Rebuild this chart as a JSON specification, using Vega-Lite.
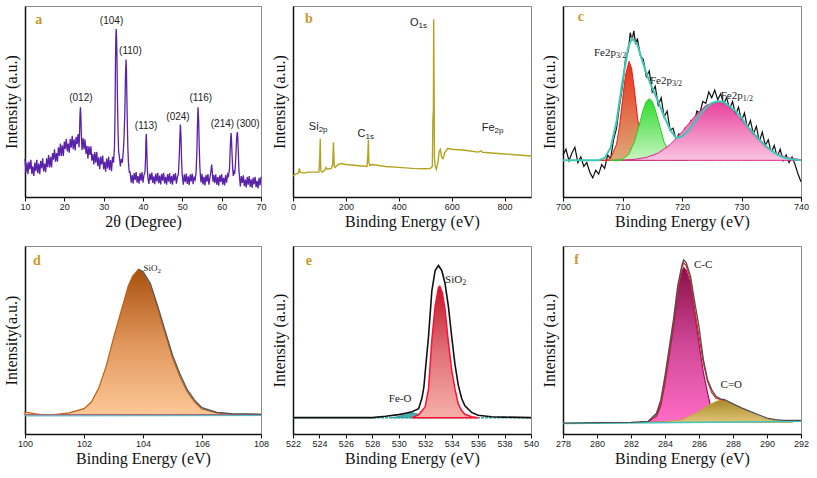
{
"$schema":"https://vega.github.io/schema/vega-lite/v6.json",
"background":"white",
"padding":{"left":2,"top":5,"right":2,"bottom":2},
"config":{
 "view":{"stroke":"#8a8a8a","strokeWidth":1},
 "axis":{"grid":false,"domainColor":"#111","domainWidth":1.5,"tickColor":"#111","tickWidth":1,"labelFont":"Liberation Sans","labelFontSize":9,"labelColor":"#222","titleFont":"Liberation Serif","titleFontSize":16,"titleFontWeight":"normal","titleColor":"#111"},
 "axisX":{"tickSize":4,"labelPadding":1,"titlePadding":2,"labelFlush":false,"labelOverlap":false},
 "axisY":{"labels":false,"ticks":false,"titlePadding":6},
 "text":{"baseline":"middle"}
},
"bounds":"flush",
"columns":3,
"spacing":{"row":49,"column":32},
"concat":[
 {"width":236,"height":191,
  "encoding":{"x":{"field":"x","type":"quantitative","scale":{"domain":[10,70],"nice":false,"zero":false},"axis":{"values":[10,20,30,40,50,60,70]},"title":"2θ (Degree)"},
   "y":{"field":"y","type":"quantitative","scale":{"domain":[0,100],"nice":false,"zero":false},"title":"Intensity (a.u.)"}},
  "layer":[
   {"data":{"values":[{"x":10,"y":20},{"x":10.25,"y":13},{"x":10.5,"y":18},{"x":10.75,"y":12},{"x":11,"y":18.5},{"x":11.25,"y":14.5},{"x":11.5,"y":19.5},{"x":11.75,"y":12},{"x":12,"y":16},{"x":12.25,"y":11},{"x":12.5,"y":18},{"x":12.75,"y":13.5},{"x":13,"y":19.5},{"x":13.25,"y":12.5},{"x":13.5,"y":17.5},{"x":13.75,"y":12},{"x":14,"y":19},{"x":14.25,"y":15},{"x":14.5,"y":20.2},{"x":14.75,"y":13.4},{"x":15,"y":17.5},{"x":15.25,"y":13},{"x":15.5,"y":20.2},{"x":15.75,"y":15.6},{"x":16,"y":22},{"x":16.25,"y":15.5},{"x":16.5,"y":21},{"x":16.75,"y":15.5},{"x":17,"y":23},{"x":17.25,"y":19.5},{"x":17.5,"y":25},{"x":17.75,"y":18.5},{"x":18,"y":23},{"x":18.25,"y":18.5},{"x":18.5,"y":26},{"x":18.75,"y":21.5},{"x":19,"y":28},{"x":19.25,"y":21.5},{"x":19.5,"y":27},{"x":19.75,"y":21.5},{"x":20,"y":29},{"x":20.25,"y":25.2},{"x":20.5,"y":30.5},{"x":20.75,"y":23.8},{"x":21,"y":28},{"x":21.25,"y":23.2},{"x":21.5,"y":30.5},{"x":21.75,"y":25.8},{"x":22,"y":32},{"x":22.25,"y":25},{"x":22.5,"y":30.2},{"x":22.75,"y":24.4},{"x":23,"y":31.5},{"x":23.25,"y":27.7},{"x":23.5,"y":33},{"x":23.75,"y":26},{"x":23.85,"y":32},{"x":24,"y":44},{"x":24.1,"y":47},{"x":24.2,"y":43},{"x":24.35,"y":31},{"x":24.5,"y":24.5},{"x":24.75,"y":30.8},{"x":25,"y":25},{"x":25.25,"y":30.2},{"x":25.5,"y":22.5},{"x":25.75,"y":26.8},{"x":26,"y":20},{"x":26.25,"y":26.5},{"x":26.5,"y":22},{"x":26.75,"y":26.5},{"x":27,"y":19},{"x":27.25,"y":22.5},{"x":27.5,"y":17},{"x":27.75,"y":23.5},{"x":28,"y":18},{"x":28.25,"y":23.6},{"x":28.5,"y":16.2},{"x":28.75,"y":20.8},{"x":29,"y":14.5},{"x":29.25,"y":21.2},{"x":29.5,"y":17},{"x":29.75,"y":21.7},{"x":30,"y":14.5},{"x":30.25,"y":18.4},{"x":30.5,"y":13.2},{"x":30.75,"y":20.1},{"x":31,"y":15},{"x":31.25,"y":21},{"x":31.5,"y":14.2},{"x":31.75,"y":19.4},{"x":32,"y":13.5},{"x":32.25,"y":21},{"x":32.5,"y":18},{"x":32.75,"y":26},{"x":32.9,"y":45},{"x":33,"y":70},{"x":33.1,"y":84},{"x":33.2,"y":88},{"x":33.3,"y":82},{"x":33.4,"y":70},{"x":33.5,"y":52},{"x":33.65,"y":35},{"x":33.8,"y":24},{"x":34,"y":21},{"x":34.25,"y":16},{"x":34.5,"y":20},{"x":34.75,"y":18},{"x":35,"y":24},{"x":35.2,"y":32},{"x":35.4,"y":46},{"x":35.55,"y":64},{"x":35.7,"y":72},{"x":35.8,"y":66},{"x":35.9,"y":52},{"x":36,"y":40},{"x":36.15,"y":26},{"x":36.3,"y":18},{"x":36.5,"y":13},{"x":36.75,"y":13},{"x":37,"y":7.5},{"x":37.25,"y":11.5},{"x":37.5,"y":7},{"x":37.75,"y":12.5},{"x":38,"y":9},{"x":38.25,"y":13},{"x":38.5,"y":7.5},{"x":38.75,"y":11},{"x":39,"y":7},{"x":39.25,"y":12.5},{"x":39.5,"y":8.5},{"x":39.75,"y":13},{"x":40,"y":7.5},{"x":40.25,"y":11.5},{"x":40.5,"y":13},{"x":40.65,"y":20},{"x":40.75,"y":30},{"x":40.85,"y":33},{"x":40.95,"y":26},{"x":41.1,"y":15},{"x":41.25,"y":10},{"x":41.5,"y":6.8},{"x":41.75,"y":12.3},{"x":42,"y":8.8},{"x":42.25,"y":12.8},{"x":42.5,"y":7.3},{"x":42.75,"y":10.8},{"x":43,"y":6.7},{"x":43.25,"y":12.2},{"x":43.5,"y":8.2},{"x":43.75,"y":12.7},{"x":44,"y":7.2},{"x":44.25,"y":11.2},{"x":44.5,"y":6.6},{"x":44.75,"y":12.1},{"x":45,"y":8.6},{"x":45.25,"y":12.6},{"x":45.5,"y":7.1},{"x":45.75,"y":10.6},{"x":46,"y":6.5},{"x":46.25,"y":12},{"x":46.5,"y":8},{"x":46.75,"y":12.5},{"x":47,"y":7},{"x":47.25,"y":11},{"x":47.5,"y":6.5},{"x":47.75,"y":12},{"x":48,"y":8.5},{"x":48.25,"y":12.5},{"x":48.5,"y":7},{"x":48.75,"y":10.5},{"x":49,"y":12},{"x":49.2,"y":20},{"x":49.35,"y":30},{"x":49.5,"y":38},{"x":49.65,"y":32},{"x":49.8,"y":20},{"x":49.95,"y":12},{"x":50.25,"y":6.4},{"x":50.5,"y":11.9},{"x":50.75,"y":7.9},{"x":51,"y":12.3},{"x":51.25,"y":6.8},{"x":51.5,"y":10.8},{"x":51.75,"y":6.3},{"x":52,"y":11.8},{"x":52.25,"y":8.2},{"x":52.5,"y":12.2},{"x":52.75,"y":6.7},{"x":53,"y":10.2},{"x":53.25,"y":9},{"x":53.5,"y":13},{"x":53.7,"y":24},{"x":53.85,"y":38},{"x":54,"y":47},{"x":54.15,"y":40},{"x":54.3,"y":26},{"x":54.45,"y":16},{"x":54.6,"y":11},{"x":54.75,"y":7.6},{"x":55,"y":12.1},{"x":55.25,"y":6.6},{"x":55.5,"y":10.6},{"x":55.75,"y":6},{"x":56,"y":11.5},{"x":56.25,"y":8},{"x":56.5,"y":12},{"x":56.75,"y":6.5},{"x":57,"y":10},{"x":57.25,"y":13},{"x":57.45,"y":17},{"x":57.6,"y":14},{"x":57.8,"y":8},{"x":58,"y":11.5},{"x":58.25,"y":7.4},{"x":58.5,"y":11.9},{"x":58.75,"y":6.4},{"x":59,"y":10.4},{"x":59.25,"y":5.9},{"x":59.5,"y":11.4},{"x":59.75,"y":7.9},{"x":60,"y":12},{"x":60.25,"y":6.5},{"x":60.5,"y":10},{"x":60.75,"y":6},{"x":61,"y":11.5},{"x":61.25,"y":7.5},{"x":61.5,"y":12},{"x":61.75,"y":11},{"x":62,"y":15},{"x":62.15,"y":24},{"x":62.3,"y":31},{"x":62.4,"y":33.5},{"x":62.5,"y":30},{"x":62.65,"y":22},{"x":62.8,"y":15},{"x":62.95,"y":11},{"x":63.1,"y":14},{"x":63.3,"y":12},{"x":63.5,"y":17},{"x":63.7,"y":26},{"x":63.85,"y":32},{"x":64,"y":34},{"x":64.1,"y":31},{"x":64.25,"y":22},{"x":64.4,"y":14},{"x":64.6,"y":9},{"x":64.75,"y":5.5},{"x":65,"y":11},{"x":65.25,"y":7.4},{"x":65.5,"y":11.3},{"x":65.75,"y":5.7},{"x":66,"y":9.1},{"x":66.25,"y":5},{"x":66.5,"y":10.5},{"x":66.75,"y":6.4},{"x":67,"y":10.9},{"x":67.25,"y":5.3},{"x":67.5,"y":9.3},{"x":67.75,"y":4.7},{"x":68,"y":10.2},{"x":68.25,"y":6.6},{"x":68.5,"y":10.6},{"x":68.75,"y":5.1},{"x":69,"y":8.5},{"x":69.25,"y":4.5},{"x":69.5,"y":10},{"x":69.75,"y":6},{"x":70,"y":10.5}]},
    "mark":{"type":"line","color":"#5a22a8","strokeWidth":1.3},"encoding":{}},
   {"data":{"values":[{"x":24.2,"y":52,"t":"(012)"},{"x":32.0,"y":92,"t":"(104)"},{"x":36.8,"y":76.5,"t":"(110)"},{"x":40.8,"y":37,"t":"(113)"},{"x":48.9,"y":42,"t":"(024)"},{"x":54.7,"y":52,"t":"(116)"},{"x":60.2,"y":38,"t":"(214)"},{"x":66.7,"y":38,"t":"(300)"}]},
    "mark":{"type":"text","font":"Liberation Sans","fontSize":10,"color":"#222"},"encoding":{"text":{"field":"t"}}},
   {"data":{"values":[{"x":13.5,"y":92.7,"t":"a"}]},"mark":{"type":"text","font":"Liberation Serif","fontWeight":"bold","fontSize":14,"color":"#c9982a"},"encoding":{"text":{"field":"t"}}}
  ]},
 {"width":238,"height":191,
  "encoding":{"x":{"field":"x","type":"quantitative","scale":{"domain":[0,900],"nice":false,"zero":false},"axis":{"values":[0,200,400,600,800]},"title":"Binding Energy (eV)"},
   "y":{"field":"y","type":"quantitative","scale":{"domain":[0,100],"nice":false,"zero":false},"title":"Intensity (a.u.)"}},
  "layer":[
   {"data":{"values":[{"x":0,"y":11},{"x":10,"y":12},{"x":20,"y":12.5},{"x":24,"y":15},{"x":27,"y":13},{"x":40,"y":12.5},{"x":60,"y":13},{"x":80,"y":13},{"x":98,"y":13},{"x":101,"y":20},{"x":103,"y":30.5},{"x":105,"y":14},{"x":110,"y":13},{"x":120,"y":14},{"x":125,"y":15.5},{"x":130,"y":14.5},{"x":145,"y":15},{"x":150,"y":17},{"x":153,"y":28.7},{"x":156,"y":16},{"x":160,"y":15.5},{"x":170,"y":17},{"x":180,"y":17.5},{"x":200,"y":17},{"x":240,"y":16.5},{"x":280,"y":16},{"x":283,"y":22},{"x":285,"y":30},{"x":287,"y":18},{"x":290,"y":16.5},{"x":300,"y":17},{"x":350,"y":16},{"x":400,"y":15.5},{"x":450,"y":15},{"x":500,"y":14.8},{"x":520,"y":15},{"x":527,"y":16},{"x":529,"y":40},{"x":530,"y":43},{"x":531,"y":46},{"x":532,"y":93},{"x":533.5,"y":60},{"x":535,"y":20},{"x":538,"y":16},{"x":542,"y":14.5},{"x":548,"y":18},{"x":553,"y":24},{"x":557,"y":25},{"x":562,"y":21},{"x":567,"y":20},{"x":575,"y":23.5},{"x":585,"y":25.5},{"x":600,"y":25},{"x":650,"y":24.5},{"x":700,"y":23.5},{"x":705,"y":23.8},{"x":711,"y":24.2},{"x":716,"y":23.4},{"x":750,"y":23},{"x":800,"y":22.5},{"x":850,"y":22},{"x":900,"y":21.5}]},
    "mark":{"type":"line","color":"#b5a320","strokeWidth":1.4},"encoding":{}},
   {"data":{"values":[{"x":97,"y":36.5,"m":"Si","s":"2p"},{"x":274,"y":33,"m":"C","s":"1s"},{"x":475,"y":91,"m":"O","s":"1s"},{"x":762,"y":36,"m":"Fe","s":"2p"}]},
    "layer":[
     {"mark":{"type":"text","font":"Liberation Sans","fontSize":11,"color":"#222","align":"right"},"encoding":{"text":{"field":"m"}}},
     {"mark":{"type":"text","font":"Liberation Sans","fontSize":8,"color":"#222","align":"left","dy":3},"encoding":{"text":{"field":"s"}}}
    ]},
   {"data":{"values":[{"x":60,"y":93,"t":"b"}]},"mark":{"type":"text","font":"Liberation Serif","fontWeight":"bold","fontSize":14,"color":"#c9982a"},"encoding":{"text":{"field":"t"}}}
  ]},
 {"width":238,"height":191,
  "encoding":{"x":{"field":"x","type":"quantitative","scale":{"domain":[700,740],"nice":false,"zero":false},"axis":{"values":[700,710,720,730,740]},"title":"Binding Energy (eV)"},
   "y":{"field":"y","type":"quantitative","scale":{"domain":[0,100],"nice":false,"zero":false},"title":"Intensity (a.u.)"}},
  "layer":[
   {"data":{"values":[{"x":700,"y":22},{"x":700.5,"y":25},{"x":701,"y":19},{"x":701.5,"y":23},{"x":702,"y":26},{"x":702.5,"y":18},{"x":703,"y":21},{"x":703.5,"y":16},{"x":704,"y":18},{"x":704.5,"y":13},{"x":705,"y":10},{"x":705.5,"y":14},{"x":706,"y":12},{"x":706.5,"y":17},{"x":707,"y":15},{"x":707.5,"y":22},{"x":708,"y":20},{"x":708.5,"y":30},{"x":709,"y":36},{"x":709.5,"y":48},{"x":710,"y":58},{"x":710.5,"y":72},{"x":711,"y":77},{"x":711.3,"y":86},{"x":711.6,"y":82},{"x":711.9,"y":87},{"x":712.2,"y":80},{"x":712.5,"y":83},{"x":713,"y":74},{"x":713.5,"y":72},{"x":714,"y":63},{"x":714.5,"y":66},{"x":715,"y":55},{"x":715.5,"y":58},{"x":716,"y":48},{"x":716.5,"y":52},{"x":717,"y":42},{"x":717.5,"y":45},{"x":718,"y":35},{"x":718.5,"y":36},{"x":719,"y":30},{"x":719.5,"y":33},{"x":720,"y":31},{"x":720.5,"y":36},{"x":721,"y":34},{"x":721.5,"y":40},{"x":722,"y":38},{"x":722.5,"y":45},{"x":723,"y":44},{"x":723.5,"y":50},{"x":724,"y":49},{"x":724.5,"y":55},{"x":725,"y":52},{"x":725.5,"y":56},{"x":726,"y":51},{"x":726.5,"y":54},{"x":727,"y":49},{"x":727.5,"y":52},{"x":728,"y":46},{"x":728.5,"y":50},{"x":729,"y":43},{"x":729.5,"y":47},{"x":730,"y":40},{"x":730.5,"y":44},{"x":731,"y":36},{"x":731.5,"y":40},{"x":732,"y":33},{"x":732.5,"y":37},{"x":733,"y":29},{"x":733.5,"y":34},{"x":734,"y":27},{"x":734.5,"y":30},{"x":735,"y":23},{"x":735.5,"y":27},{"x":736,"y":21},{"x":736.5,"y":25},{"x":737,"y":19},{"x":737.5,"y":22},{"x":738,"y":18},{"x":738.5,"y":21},{"x":739,"y":17},{"x":739.5,"y":12},{"x":740,"y":8}]},
    "mark":{"type":"line","color":"#111","strokeWidth":1.2},"encoding":{}},
   {"data":{"values":[{"x":706,"y":19.2},{"x":707,"y":19.25},{"x":708,"y":20.2},{"x":709,"y":27.6},{"x":709.5,"y":37.2},{"x":710,"y":50.6},{"x":710.5,"y":63.8},{"x":711.1,"y":71},{"x":711.5,"y":67.7},{"x":712,"y":56.3},{"x":712.5,"y":42.2},{"x":713,"y":30.9},{"x":713.5,"y":24},{"x":714,"y":20.8},{"x":715,"y":19.3}]},
    "mark":{"type":"area","stroke":"#e81c10","strokeWidth":1,"fill":{"gradient":"linear","x1":0,"y1":0,"x2":0,"y2":1,"stops":[{"offset":0,"color":"#e8301e"},{"offset":1,"color":"#dcaa78"}]}},"encoding":{"y2":{"datum":19.2}}},
   {"data":{"values":[{"x":708,"y":19.2},{"x":709,"y":19.3},{"x":710,"y":19.8},{"x":711,"y":22.1},{"x":712,"y":28.7},{"x":713,"y":40},{"x":713.5,"y":45.8},{"x":714,"y":50},{"x":714.5,"y":51.5},{"x":715,"y":50},{"x":715.5,"y":45.8},{"x":716,"y":40},{"x":717,"y":28.7},{"x":718,"y":22.1},{"x":719,"y":19.8},{"x":720,"y":19.3},{"x":721,"y":19.2}]},
    "mark":{"type":"area","stroke":"#22d022","strokeWidth":1,"fill":{"gradient":"linear","x1":0,"y1":0,"x2":0,"y2":1,"stops":[{"offset":0,"color":"#30dc30"},{"offset":1,"color":"#c8f4c0"}]}},"encoding":{"y2":{"datum":19.2}}},
   {"data":{"values":[{"x":710,"y":19.3},{"x":712,"y":19.7},{"x":714,"y":20.7},{"x":716,"y":23},{"x":718,"y":27.4},{"x":720,"y":34},{"x":722,"y":41.7},{"x":724,"y":47.9},{"x":725.8,"y":50},{"x":727,"y":49.1},{"x":728,"y":46.9},{"x":730,"y":40.2},{"x":732,"y":32.6},{"x":734,"y":26.4},{"x":736,"y":22.4},{"x":738,"y":20.4},{"x":740,"y":19.6}]},
    "mark":{"type":"area","stroke":"#e02088","strokeWidth":1,"fill":{"gradient":"linear","x1":0,"y1":0,"x2":0,"y2":1,"stops":[{"offset":0,"color":"#e8409a"},{"offset":1,"color":"#fac4e2"}]}},"encoding":{"y2":{"datum":19.2}}},
   {"data":{"values":[{"x":700,"y":19.2},{"x":706,"y":19.2},{"x":707,"y":20.4},{"x":708,"y":25.7},{"x":709,"y":39.6},{"x":710,"y":60.6},{"x":711,"y":78.9},{"x":711.6,"y":83.2},{"x":712.5,"y":79.8},{"x":713,"y":74.5},{"x":714,"y":64.9},{"x":715,"y":57},{"x":716,"y":50},{"x":717,"y":42.2},{"x":718,"y":35.3},{"x":719,"y":30.9},{"x":720,"y":31.8},{"x":721,"y":34.4},{"x":722,"y":38.7},{"x":723,"y":43.1},{"x":724,"y":46.6},{"x":725,"y":49.2},{"x":726,"y":50.1},{"x":727,"y":49.7},{"x":728,"y":47.5},{"x":729,"y":44.9},{"x":730,"y":41.4},{"x":731,"y":37},{"x":732,"y":33.5},{"x":733,"y":30},{"x":734,"y":27},{"x":735,"y":24.4},{"x":736,"y":22.2},{"x":737,"y":20.8},{"x":738,"y":19.9},{"x":740,"y":19.2}]},
    "mark":{"type":"line","color":"#3cc8b4","strokeWidth":2},"encoding":{}},
   {"data":{"values":[{"x":708.9,"y":75.4,"m":"Fe2p","s":"3/2"},{"x":718.3,"y":60.6,"m":"Fe2p","s":"3/2"},{"x":730.2,"y":52.7,"m":"Fe2p","s":"1/2"}]},
    "layer":[
     {"mark":{"type":"text","font":"Liberation Serif","fontSize":11,"color":"#222","align":"right"},"encoding":{"text":{"field":"m"}}},
     {"mark":{"type":"text","font":"Liberation Serif","fontSize":8,"color":"#222","align":"left","dy":3},"encoding":{"text":{"field":"s"}}}
    ]},
   {"data":{"values":[{"x":703,"y":94,"t":"c"}]},"mark":{"type":"text","font":"Liberation Serif","fontWeight":"bold","fontSize":14,"color":"#c9982a"},"encoding":{"text":{"field":"t"}}}
  ]},
 {"width":236,"height":188,
  "encoding":{"x":{"field":"x","type":"quantitative","scale":{"domain":[100,108],"nice":false,"zero":false},"axis":{"values":[100,102,104,106,108]},"title":"Binding Energy (eV)"},
   "y":{"field":"y","type":"quantitative","scale":{"domain":[0,100],"nice":false,"zero":false},"title":"Intensity(a.u.)"}},
  "layer":[
   {"data":{"values":[{"x":100,"y":11.7},{"x":100.3,"y":10.8},{"x":100.6,"y":10.2},{"x":101,"y":10.3},{"x":101.5,"y":11.2},{"x":102,"y":13.5},{"x":102.25,"y":17},{"x":102.5,"y":24.5},{"x":102.75,"y":36},{"x":103,"y":51},{"x":103.25,"y":65},{"x":103.5,"y":78.7},{"x":103.65,"y":84},{"x":103.85,"y":87.6},{"x":104,"y":86},{"x":104.25,"y":79},{"x":104.5,"y":66.5},{"x":104.75,"y":53.5},{"x":105,"y":40.5},{"x":105.25,"y":30.5},{"x":105.5,"y":22.5},{"x":105.75,"y":17},{"x":106,"y":13.3},{"x":106.5,"y":11.2},{"x":107,"y":10.6},{"x":108,"y":10.4}]},
    "mark":{"type":"area","stroke":"#c06010","strokeWidth":1.2,"fill":{"gradient":"linear","x1":0,"y1":0,"x2":0,"y2":1,"stops":[{"offset":0,"color":"#a8500e"},{"offset":0.5,"color":"#e0955a"},{"offset":1,"color":"#fcc898"}]}},"encoding":{"y2":{"datum":10.3}}},
   {"data":{"values":[{"x":100,"y":10.1},{"x":108,"y":10.1}]},"mark":{"type":"line","color":"#a070c0","strokeWidth":1},"encoding":{}},
   {"data":{"values":[{"x":100,"y":9.6},{"x":108,"y":9.8}]},"mark":{"type":"line","color":"#50b8c8","strokeWidth":1},"encoding":{}},
   {"data":{"values":[{"x":103.85,"y":87.6},{"x":104,"y":86.5},{"x":104.25,"y":80},{"x":104.5,"y":68},{"x":104.75,"y":55},{"x":105,"y":42},{"x":105.25,"y":32},{"x":105.5,"y":23.6},{"x":105.75,"y":18},{"x":106,"y":14},{"x":106.5,"y":11.5},{"x":107,"y":10.8},{"x":108,"y":10.5}]},
    "mark":{"type":"line","color":"#4a5560","strokeWidth":1.2},"encoding":{}},
   {"data":{"values":[{"x":104.49,"y":88.1,"m":"SiO","s":"2"}]},
    "layer":[
     {"mark":{"type":"text","font":"Liberation Serif","fontSize":9,"color":"#222","align":"right"},"encoding":{"text":{"field":"m"}}},
     {"mark":{"type":"text","font":"Liberation Serif","fontSize":7,"color":"#222","align":"left","dy":3},"encoding":{"text":{"field":"s"}}}
    ]},
   {"data":{"values":[{"x":100.4,"y":92,"t":"d"}]},"mark":{"type":"text","font":"Liberation Serif","fontWeight":"bold","fontSize":14,"color":"#c9982a"},"encoding":{"text":{"field":"t"}}}
  ]},
 {"width":238,"height":188,
  "encoding":{"x":{"field":"x","type":"quantitative","scale":{"domain":[522,540],"nice":false,"zero":false},"axis":{"values":[522,524,526,528,530,532,534,536,538,540]},"title":"Binding Energy (eV)"},
   "y":{"field":"y","type":"quantitative","scale":{"domain":[0,100],"nice":false,"zero":false},"title":"Intensity (a.u.)"}},
  "layer":[
   {"data":{"values":[{"x":522,"y":8.7},{"x":540,"y":8.7}]},"mark":{"type":"line","color":"#30b0a0","strokeWidth":1.5,"strokeDash":[3,1]},"encoding":{}},
   {"data":{"values":[{"x":529.5,"y":8.7},{"x":530,"y":9.3},{"x":530.5,"y":10.4},{"x":531,"y":11.3},{"x":531.5,"y":10.5},{"x":532,"y":9.3},{"x":532.5,"y":8.7}]},
    "mark":{"type":"area","stroke":"#2a9a9a","strokeWidth":1,"fill":"#48b0a8"},"encoding":{"y2":{"datum":8.7}}},
   {"data":{"values":[{"x":531,"y":8.7},{"x":531.5,"y":10.2},{"x":532,"y":14.5},{"x":532.25,"y":24},{"x":532.5,"y":50},{"x":532.75,"y":68},{"x":533,"y":78},{"x":533.1,"y":78.6},{"x":533.3,"y":75},{"x":533.5,"y":66},{"x":533.75,"y":49},{"x":534,"y":34},{"x":534.25,"y":24},{"x":534.5,"y":16},{"x":534.75,"y":12.5},{"x":535,"y":10.5},{"x":535.5,"y":9.2},{"x":536,"y":8.7}]},
    "mark":{"type":"area","stroke":"#ff1030","strokeWidth":1.5,"fill":{"gradient":"linear","x1":0,"y1":0,"x2":0,"y2":1,"stops":[{"offset":0,"color":"#c01828"},{"offset":0.5,"color":"#e0707a"},{"offset":1,"color":"#f6b0a8"}]}},"encoding":{"y2":{"datum":8.7}}},
   {"data":{"values":[{"x":522,"y":8.7},{"x":528,"y":8.7},{"x":529,"y":9.4},{"x":530,"y":10.3},{"x":530.5,"y":11},{"x":531,"y":11.8},{"x":531.5,"y":13.5},{"x":531.75,"y":19},{"x":531.9,"y":25},{"x":532,"y":33},{"x":532.25,"y":52},{"x":532.5,"y":76},{"x":532.75,"y":87},{"x":533,"y":89.6},{"x":533.25,"y":87},{"x":533.5,"y":80},{"x":533.75,"y":68},{"x":534,"y":52},{"x":534.25,"y":37},{"x":534.5,"y":26},{"x":534.75,"y":19},{"x":535,"y":15},{"x":535.5,"y":11.5},{"x":536,"y":10},{"x":537,"y":9.2},{"x":538,"y":9},{"x":540,"y":8.7}]},
    "mark":{"type":"line","color":"#111","strokeWidth":1.6},"encoding":{}},
   {"data":{"values":[{"x":534.8,"y":81.7,"m":"SiO","s":"2"}]},
    "layer":[
     {"mark":{"type":"text","font":"Liberation Serif","fontSize":11,"color":"#222","align":"right"},"encoding":{"text":{"field":"m"}}},
     {"mark":{"type":"text","font":"Liberation Serif","fontSize":8,"color":"#222","align":"left","dy":3},"encoding":{"text":{"field":"s"}}}
    ]},
   {"data":{"values":[{"x":530.1,"y":18.6,"t":"Fe-O"}]},"mark":{"type":"text","font":"Liberation Serif","fontSize":11,"color":"#222"},"encoding":{"text":{"field":"t"}}},
   {"data":{"values":[{"x":523.2,"y":92,"t":"e"}]},"mark":{"type":"text","font":"Liberation Serif","fontWeight":"bold","fontSize":14,"color":"#c9982a"},"encoding":{"text":{"field":"t"}}}
  ]},
 {"width":238,"height":188,
  "encoding":{"x":{"field":"x","type":"quantitative","scale":{"domain":[278,292],"nice":false,"zero":false},"axis":{"values":[278,280,282,284,286,288,290,292]},"title":"Binding Energy (eV)"},
   "y":{"field":"y","type":"quantitative","scale":{"domain":[0,100],"nice":false,"zero":false},"title":"Intensity (a.u.)"}},
  "layer":[
   {"data":{"values":[{"x":282.5,"y":6.2},{"x":283,"y":6.4},{"x":283.5,"y":9.5},{"x":283.75,"y":15},{"x":284,"y":27},{"x":284.25,"y":42},{"x":284.5,"y":57},{"x":284.75,"y":75},{"x":285,"y":86.5},{"x":285.1,"y":88.6},{"x":285.25,"y":87},{"x":285.5,"y":80},{"x":285.75,"y":64},{"x":286,"y":48},{"x":286.25,"y":33},{"x":286.5,"y":22},{"x":286.75,"y":12},{"x":287,"y":8},{"x":287.5,"y":6.5}]},
    "mark":{"type":"area","stroke":"#a01058","strokeWidth":1.2,"fill":{"gradient":"linear","x1":0,"y1":0,"x2":0,"y2":1,"stops":[{"offset":0,"color":"#8a1048"},{"offset":0.5,"color":"#d04898"},{"offset":1,"color":"#ff6cc4"}]}},"encoding":{"y2":{"datum":6.2}}},
   {"data":{"values":[{"x":283,"y":6.2},{"x":284,"y":6.4},{"x":285,"y":7.6},{"x":286,"y":12},{"x":286.5,"y":15},{"x":287,"y":17.3},{"x":287.3,"y":18.1},{"x":287.5,"y":17.8},{"x":288,"y":16},{"x":288.5,"y":13.7},{"x":289,"y":11.4},{"x":289.5,"y":9.3},{"x":290,"y":7.9},{"x":290.5,"y":7.2},{"x":291,"y":6.9},{"x":291.5,"y":6.5}]},
    "mark":{"type":"area","stroke":"#c8a040","strokeWidth":1,"fill":{"gradient":"linear","x1":0,"y1":0,"x2":0,"y2":1,"stops":[{"offset":0,"color":"#a88a28"},{"offset":1,"color":"#e0c478"}]}},"encoding":{"y2":{"datum":6.2}}},
   {"data":{"values":[{"x":278,"y":5.6},{"x":285,"y":6.1},{"x":292,"y":6.8}]},"mark":{"type":"line","color":"#40c8c0","strokeWidth":1.5},"encoding":{}},
   {"data":{"values":[{"x":283,"y":6.6},{"x":283.5,"y":10.5},{"x":283.75,"y":16.5},{"x":284,"y":29},{"x":284.25,"y":44},{"x":284.5,"y":59},{"x":284.75,"y":77},{"x":285,"y":89},{"x":285.1,"y":91},{"x":285.25,"y":89.5},{"x":285.5,"y":82},{"x":285.75,"y":66},{"x":286,"y":52},{"x":286.25,"y":38},{"x":286.5,"y":28},{"x":286.75,"y":22},{"x":287,"y":19},{"x":287.3,"y":18.3},{"x":287.5,"y":17.9}]},
    "mark":{"type":"line","color":"#f02020","strokeWidth":1.2},"encoding":{}},
   {"data":{"values":[{"x":278,"y":5.8},{"x":280,"y":6},{"x":282,"y":6.2},{"x":282.5,"y":6.4},{"x":283,"y":6.7},{"x":283.5,"y":11},{"x":283.75,"y":18},{"x":284,"y":31},{"x":284.25,"y":46},{"x":284.5,"y":61},{"x":284.75,"y":79},{"x":285,"y":90},{"x":285.1,"y":92.6},{"x":285.25,"y":91},{"x":285.5,"y":84},{"x":285.75,"y":70},{"x":286,"y":57},{"x":286.25,"y":40},{"x":286.5,"y":29},{"x":286.75,"y":23.5},{"x":287,"y":20},{"x":287.25,"y":18.7},{"x":287.5,"y":18.3},{"x":288,"y":16},{"x":288.5,"y":13.9},{"x":289,"y":12},{"x":289.5,"y":10.2},{"x":290,"y":8.5},{"x":290.5,"y":7.6},{"x":291,"y":7.2},{"x":292,"y":7.2}]},
    "mark":{"type":"line","color":"#505050","strokeWidth":1.3},"encoding":{}},
   {"data":{"values":[{"x":286.24,"y":90,"t":"C-C"},{"x":287.9,"y":26,"t":"C=O"}]},"mark":{"type":"text","font":"Liberation Serif","fontSize":11,"color":"#222"},"encoding":{"text":{"field":"t"}}},
   {"data":{"values":[{"x":278.8,"y":92.5,"t":"f"}]},"mark":{"type":"text","font":"Liberation Serif","fontWeight":"bold","fontSize":14,"color":"#c9982a"},"encoding":{"text":{"field":"t"}}}
  ]}
]
}
